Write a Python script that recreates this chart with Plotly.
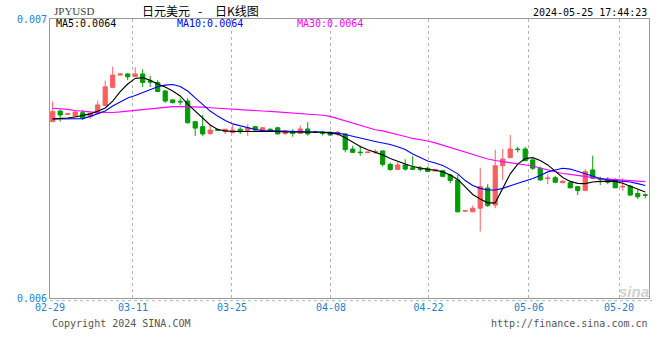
import plotly.graph_objects as go

# ---------------- data (prices in units of 1e-6 JPY->USD) ----------------
candle_idx = list(range(80))

open_u = [6632, 6670, 6658, 6652, 6664, 6650, 6662, 6690, 6755, 6799,
          6803, 6793, 6803, 6778, 6772, 6742, 6710, 6705, 6706, 6632,
          6614, 6590, 6604, 6596, 6593, 6605, 6600, 6614, 6600, 6605,
          6610, 6590, 6596, 6590, 6606, 6596, 6593, 6594, 6587, 6588,
          6534, 6523, 6521, 6523, 6527, 6479, 6461, 6477, 6467, 6464,
          6465, 6455, 6456, 6441, 6423, 6311, 6309, 6322, 6394, 6333,
          6474, 6503, 6534, 6534, 6495, 6465, 6428, 6431, 6413, 6413,
          6399, 6385, 6459, 6428, 6426, 6423, 6398, 6401, 6375, 6370]
high_u = [6704, 6674, 6661, 6670, 6674, 6665, 6707, 6779, 6829, 6805,
          6806, 6827, 6820, 6796, 6781, 6746, 6713, 6716, 6716, 6634,
          6656, 6620, 6608, 6606, 6620, 6612, 6623, 6617, 6613, 6608,
          6614, 6602, 6605, 6618, 6630, 6599, 6599, 6597, 6599, 6590,
          6546, 6546, 6524, 6533, 6529, 6486, 6488, 6497, 6509, 6473,
          6471, 6462, 6459, 6445, 6441, 6314, 6331, 6467, 6408, 6531,
          6534, 6584, 6542, 6542, 6498, 6471, 6443, 6438, 6421, 6419,
          6401, 6462, 6510, 6435, 6433, 6429, 6429, 6403, 6387, 6375]
low_u = [6631, 6632, 6658, 6649, 6638, 6642, 6660, 6688, 6753, 6798,
         6781, 6792, 6756, 6756, 6738, 6700, 6698, 6692, 6626, 6581,
         6581, 6584, 6599, 6588, 6590, 6588, 6581, 6599, 6599, 6596,
         6587, 6584, 6578, 6588, 6582, 6591, 6582, 6582, 6581, 6522,
         6519, 6510, 6520, 6516, 6471, 6456, 6459, 6456, 6459, 6453,
         6452, 6454, 6433, 6411, 6307, 6310, 6308, 6238, 6327, 6322,
         6423, 6502, 6522, 6491, 6459, 6421, 6408, 6412, 6412, 6393,
         6369, 6384, 6427, 6405, 6408, 6394, 6384, 6366, 6355, 6357]
close_u = [6668, 6656, 6660, 6667, 6645, 6662, 6692, 6757, 6799, 6803,
           6793, 6803, 6772, 6774, 6740, 6706, 6700, 6703, 6628, 6609,
           6588, 6602, 6601, 6605, 6602, 6596, 6610, 6602, 6610, 6599,
           6588, 6599, 6590, 6606, 6588, 6594, 6590, 6584, 6594, 6532,
           6522, 6521, 6523, 6525, 6479, 6461, 6477, 6462, 6461, 6461,
           6453, 6461, 6436, 6421, 6309, 6313, 6322, 6399, 6331, 6474,
           6498, 6534, 6532, 6492, 6465, 6423, 6430, 6415, 6419, 6395,
           6385, 6453, 6429, 6426, 6415, 6395, 6400, 6369, 6363, 6368]

ma5_u = [6642, 6643, 6645, 6649, 6654, 6660, 6669, 6681, 6706, 6740,
         6767, 6787, 6790, 6780, 6767, 6756, 6742, 6724, 6695, 6670,
         6645, 6620, 6604, 6599, 6597, 6597, 6597, 6599, 6599, 6598,
         6597, 6595, 6595, 6596, 6595, 6595, 6594, 6591, 6588, 6574,
         6557, 6543, 6531, 6523, 6513, 6500, 6489, 6480, 6471, 6465,
         6461, 6458, 6452, 6441, 6425, 6398, 6371, 6355, 6341, 6341,
         6391, 6445, 6480, 6500, 6503, 6493, 6477, 6455, 6432, 6418,
         6411, 6410, 6416, 6418, 6419, 6418, 6411, 6400, 6391, 6380]
ma10_u = [6642, 6642, 6641, 6641, 6643, 6651, 6660, 6670, 6688, 6704,
          6717, 6726, 6737, 6748, 6757, 6763, 6765, 6758, 6742, 6717,
          6692, 6670, 6652, 6636, 6624, 6617, 6609, 6604, 6600, 6599,
          6598, 6597, 6596, 6596, 6596, 6595, 6595, 6594, 6591, 6586,
          6579, 6574, 6567, 6561, 6556, 6550, 6542, 6532, 6516, 6502,
          6491, 6484, 6475, 6461, 6445, 6421, 6403, 6393, 6387, 6387,
          6393, 6402, 6410, 6418, 6428, 6439, 6452, 6459, 6465, 6462,
          6453, 6445, 6436, 6428, 6423, 6421, 6419, 6416, 6410, 6403]
ma30_u = [6680, 6679, 6676, 6672, 6669, 6667, 6666, 6665, 6665, 6667,
          6670, 6673, 6675, 6679, 6682, 6685, 6686, 6686, 6686, 6685,
          6684, 6682, 6680, 6679, 6677, 6676, 6674, 6672, 6670, 6669,
          6667, 6665, 6664, 6663, 6661, 6658, 6655, 6651, 6643, 6634,
          6627, 6618, 6609, 6603, 6599, 6593, 6586, 6579, 6572, 6568,
          6563, 6556, 6548, 6539, 6531, 6522, 6514, 6507, 6498, 6493,
          6489, 6486, 6482, 6479, 6473, 6466, 6459, 6453, 6446, 6443,
          6439, 6435, 6431, 6428, 6426, 6424, 6422, 6421, 6418, 6417]

tick_pos = [-0.36, 10.7, 23.9, 37.1, 50.1, 63.5, 75.5]
tick_text = ["02-29", "03-11", "03-25", "04-08", "04-22", "05-06", "05-20"]
y_ticks = [0.006, 0.007]

U = 1e-6
opens = [v * U for v in open_u]
highs = [v * U for v in high_u]
lows = [v * U for v in low_u]
closes = [v * U for v in close_u]
ma5 = [v * U for v in ma5_u]
ma10 = [v * U for v in ma10_u]
ma30 = [v * U for v in ma30_u]

RED = "#f95f5f"
GREEN = "#009c00"
MONO = "DejaVu Sans Mono"

# plot area in pixels
L, R, T, B = 50, 649, 19, 298
W, H = 660, 360


def px(x):
    return (x - L) / (R - L)


def py(y):
    return (B - y) / (B - T)


fig = go.Figure()
fig.add_trace(go.Candlestick(
    x=candle_idx, open=opens, high=highs, low=lows, close=closes,
    increasing=dict(line=dict(color=RED, width=1), fillcolor=RED),
    decreasing=dict(line=dict(color=GREEN, width=1), fillcolor=GREEN),
    whiskerwidth=0, showlegend=False, hoverinfo="skip"))
fig.add_trace(go.Scatter(x=candle_idx, y=ma30, mode="lines",
                         line=dict(color="#ff00ff", width=1.1), showlegend=False))
fig.add_trace(go.Scatter(x=candle_idx, y=ma10, mode="lines",
                         line=dict(color="#0000ff", width=1.1), showlegend=False))
fig.add_trace(go.Scatter(x=candle_idx, y=ma5, mode="lines",
                         line=dict(color="#000000", width=1.1), showlegend=False))

ann = []


def text(x, y, s, color, size=10, family=MONO, xanchor="left", **kw):
    ann.append(dict(x=px(x), y=py(y), xref="paper", yref="paper", text=s,
                    showarrow=False, xanchor=xanchor, yanchor="middle",
                    font=dict(family=family, size=size, color=color), **kw))


text(52, 11, "JPYUSD", "#444444", size=11, family="Liberation Serif")
text(140, 10, "日元美元", "#000000", size=12, family="Noto Sans CJK SC")
text(200, 10, "-", "#000000", size=12, family="Noto Sans CJK SC", xanchor="center")
text(213, 10, "日K线图", "#000000", size=12, family="Noto Sans CJK SC")
text(649, 12, "2024-05-25 17:44:23", "#000000", xanchor="right")
text(54, 24, "MA5:" + f"{ma5[-1]:.4f}", "#000000")
text(175, 24, "MA10:" + f"{ma10[-1]:.4f}", "#0000ff")
text(295, 24, "MA30:" + f"{ma30[-1]:.4f}", "#ff00ff")
text(50, 323, "Copyright 2024 SINA.COM", "#555555")
text(650, 323, "http://finance.sina.com.cn", "#555555", xanchor="right")
text(634, 291, "<b><i>sina</i></b>", "#d0d0d0", size=15, family="Liberation Sans",
     xanchor="center")

fig.update_layout(
    width=W, height=H,
    margin=dict(l=L, r=W - R, t=T, b=H - B),
    paper_bgcolor="white", plot_bgcolor="white",
    boxgap=0.2,
    annotations=ann,
    shapes=[dict(type="line", xref="paper", yref="paper",
                 x0=0, x1=px(652), y0=py(300.7), y1=py(300.7),
                 line=dict(color="#b4b4b4", width=1, dash="dot"))],
    xaxis=dict(range=[-0.36, 79.5], rangeslider=dict(visible=False),
               tickmode="array", tickvals=tick_pos, ticktext=tick_text,
               showgrid=True, gridcolor="#b4b4b4", griddash="dot", gridwidth=1,
               showline=True, linecolor="#999999", linewidth=1, mirror=True,
               ticks="", zeroline=False,
               tickfont=dict(family=MONO, size=10, color="#1c7fd0")),
    yaxis=dict(range=[0.006, 0.007], tickmode="array", tickvals=y_ticks,
               tickformat=".3f", showgrid=False, zeroline=False,
               showline=True, linecolor="#999999", linewidth=1, mirror=True,
               ticks="",
               tickfont=dict(family=MONO, size=10, color="#1c7fd0")),
)

fig.write_html("out.html")
